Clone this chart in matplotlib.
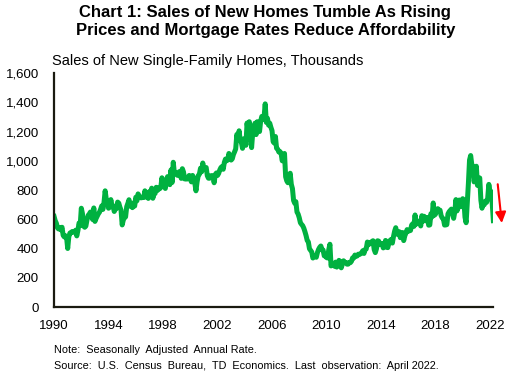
import numpy as np
import matplotlib
matplotlib.use("Agg")
import matplotlib.pyplot as plt
from matplotlib.ticker import FuncFormatter

plt.rcParams['font.family'] = ['Liberation Sans', 'DejaVu Sans']

# monthly new single-family home sales, thousands (SAAR), Jan 1990 - Apr 2022
sales = {
    1990: [620, 591, 574, 542, 534, 545, 529, 546, 491, 480, 488, 477],
    1991: [401, 482, 507, 508, 517, 516, 511, 526, 487, 524, 575, 558],
    1992: [676, 639, 554, 546, 554, 596, 627, 636, 650, 621, 599, 678],
    1993: [586, 606, 622, 638, 649, 669, 692, 668, 716, 795, 737, 717],
    1994: [676, 683, 735, 694, 692, 654, 671, 675, 718, 711, 683, 663],
    1995: [562, 596, 612, 617, 687, 709, 734, 690, 693, 680, 712, 691],
    1996: [751, 727, 774, 760, 748, 747, 751, 749, 795, 754, 754, 743],
    1997: [790, 772, 813, 744, 776, 777, 819, 797, 814, 809, 817, 884],
    1998: [839, 851, 811, 871, 892, 889, 837, 938, 852, 990, 914, 917],
    1999: [904, 900, 924, 928, 880, 946, 924, 876, 878, 875, 882, 900],
    2000: [873, 856, 900, 881, 847, 795, 857, 899, 908, 949, 925, 985],
    2001: [940, 954, 954, 898, 881, 881, 898, 887, 899, 850, 906, 917],
    2002: [900, 914, 938, 954, 961, 942, 989, 1012, 1000, 1006, 1050, 1029],
    2003: [1005, 1014, 1043, 1061, 1081, 1180, 1142, 1205, 1138, 1126, 1085, 1150],
    2004: [1150, 1106, 1258, 1200, 1267, 1188, 1090, 1191, 1208, 1257, 1179, 1267],
    2005: [1221, 1200, 1272, 1303, 1283, 1300, 1389, 1262, 1290, 1243, 1257, 1229],
    2006: [1206, 1130, 1121, 1166, 1086, 1080, 1060, 1063, 1051, 1000, 1030, 1050],
    2007: [891, 863, 850, 886, 915, 839, 810, 729, 710, 721, 650, 636],
    2008: [611, 577, 566, 557, 540, 516, 489, 456, 446, 399, 388, 377],
    2009: [336, 352, 352, 341, 373, 395, 409, 418, 395, 390, 351, 350],
    2010: [339, 336, 394, 430, 282, 300, 288, 280, 308, 274, 285, 320],
    2011: [309, 269, 295, 317, 306, 306, 294, 294, 306, 304, 314, 337],
    2012: [336, 356, 348, 350, 362, 360, 365, 373, 386, 367, 394, 398],
    2013: [445, 426, 441, 435, 449, 454, 394, 373, 399, 454, 451, 427],
    2014: [431, 435, 405, 414, 456, 409, 407, 438, 456, 463, 438, 482],
    2015: [519, 543, 499, 512, 516, 475, 504, 510, 455, 488, 507, 530],
    2016: [519, 522, 524, 561, 570, 552, 630, 567, 576, 577, 590, 555],
    2017: [625, 588, 621, 590, 606, 613, 560, 562, 639, 617, 712, 628],
    2018: [635, 663, 673, 655, 663, 625, 609, 603, 561, 562, 564, 637],
    2019: [652, 661, 670, 640, 607, 651, 735, 658, 710, 732, 686, 720],
    2020: [741, 733, 615, 577, 708, 845, 1005, 1036, 974, 960, 856, 885],
    2021: [963, 832, 873, 883, 731, 676, 708, 700, 725, 716, 744, 839],
    2022: [788, 790, 709, 591],
}
year_ticks = [1990, 1994, 1998, 2002, 2006, 2010, 2014, 2018, 2022]
y_ticks = [0, 200, 400, 600, 800, 1000, 1200, 1400, 1600]

x = []
y = []
for yr, vals in sales.items():
    for m, v in enumerate(vals):
        x.append(yr + m / 12)
        y.append(v)

fig = plt.figure(figsize=(5.15, 3.84), dpi=100)
ax = fig.add_axes([0.105, 0.2, 0.853, 0.61])

ax.plot(x, y, color='#00b140', lw=3.6, solid_joinstyle='round')

ax.set_xlim(1990, 2022.25)
ax.set_ylim(0, 1600)
ax.set_xticks(year_ticks)
ax.set_yticks(y_ticks)
ax.yaxis.set_major_formatter(FuncFormatter(lambda v, p: f"{int(v):,}"))
ax.tick_params(axis='both', length=0, labelsize=9.5, colors='black')
ax.tick_params(axis='y', pad=11)
ax.tick_params(axis='x', pad=9)
for s in ['top', 'right']:
    ax.spines[s].set_visible(False)
for s in ['left', 'bottom']:
    ax.spines[s].set_color('#1a1a10')
    ax.spines[s].set_linewidth(1.6)

# red down arrow past the last observation
ax.annotate('', xy=(2022.87, 575), xytext=(2022.57, 840),
            arrowprops=dict(arrowstyle='-|>', color='#ff0000', lw=1.5,
                            mutation_scale=16, shrinkA=0, shrinkB=0),
            annotation_clip=False)

fig.text(0.515, 0.988, 'Chart 1: Sales of New Homes Tumble As Rising\n'
         'Prices and Mortgage Rates Reduce Affordability',
         ha='center', va='top', fontsize=12, fontweight='bold', linespacing=1.3)
fig.text(0.101, 0.84, 'Sales of New Single-Family Homes, Thousands',
         ha='left', va='center', fontsize=10.5)
fig.text(0.105, 0.088, 'Note:  Seasonally  Adjusted  Annual Rate.',
         ha='left', va='center', fontsize=7.8)
fig.text(0.105, 0.047, 'Source:  U.S.  Census  Bureau,  TD  Economics.  Last  observation:  April 2022.',
         ha='left', va='center', fontsize=7.8)

fig.savefig('out.png', dpi=100)
